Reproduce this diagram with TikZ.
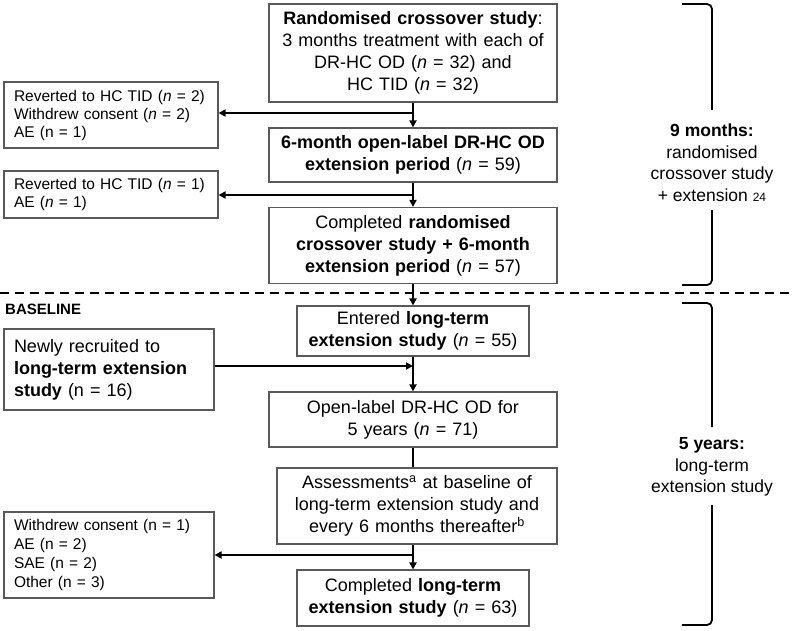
\documentclass[tikz,border=0pt]{standalone}
\usepackage{fontspec}
\setmainfont{Liberation Sans}
\usetikzlibrary{arrows.meta}
\newcommand\MyMain{\fontsize{18}{22}\selectfont}
\newcommand\MySide{\fontsize{15.5}{18}\selectfont}
\newcommand\MySideB{\fontsize{15.5}{18.7}\selectfont}
\newcommand\MyBrace{\fontsize{17.5}{21.5}\selectfont}
\begin{document}
\begin{tikzpicture}[x=1pt,y=-1pt,
  mbox/.style={draw=black!65, line width=1.1pt, align=center, inner xsep=10pt, inner ysep=0pt, font=\MyMain},
  sbox/.style={draw=black!65, line width=1.1pt, align=left, inner xsep=10pt, inner ysep=0pt, font=\MySide},
  arr/.style={line width=1.8pt, -{Triangle[length=7pt,width=7pt]}},
  ln/.style={line width=1.8pt},
  brc/.style={line width=1.8pt, rounded corners=5pt},
  bracetext/.style={align=center, inner sep=0pt, font=\MyBrace}
]
\useasboundingbox (0,0) rectangle (793,631);
\fill[white] (0,0) rectangle (793,631);

% upper part
\node[mbox, text width=268pt, minimum height=98pt] (top) at (413,53)
  {\textbf{Randomised crossover study}:\\3 months treatment with each of\\DR-HC OD (\textit{n} = 32) and\\HC TID (\textit{n} = 32)};
\node[sbox, text width=194pt, minimum height=66pt] (l1) at (111,115)
  {Reverted to HC TID (\textit{n} = 2)\\Withdrew consent (\textit{n} = 2)\\AE (n = 1)};
\node[mbox, text width=268pt, minimum height=54pt] (m6) at (413,155)
  {\textbf{6-month open-label DR-HC OD}\\\textbf{extension period} (\textit{n} = 59)};
\node[sbox, text width=194pt, minimum height=47pt] (l2) at (111,194.5)
  {Reverted to HC TID (\textit{n} = 1)\\AE (\textit{n} = 1)};
\node[mbox, text width=268pt, minimum height=76pt] (c1) at (413,245.5)
  {Completed \textbf{randomised}\\\textbf{crossover study + 6-month}\\\textbf{extension period} (\textit{n} = 57)};

% separator
\draw[line width=1.5pt, dash pattern=on 9pt off 6pt] (0,293) -- (793,293);
\node[anchor=west, inner sep=0pt, font=\bfseries\fontsize{15}{15}\selectfont] (bl) at (5,309) {BASELINE};

% lower part
\node[mbox, text width=212pt, minimum height=50pt] (en) at (413,331)
  {Entered \textbf{long-term}\\\textbf{extension study} (\textit{n} = 55)};
\node[sbox, font=\MyMain, text width=190pt, minimum height=81pt] (nr) at (109,369.5)
  {Newly recruited to\\\textbf{long-term extension}\\\textbf{study} (n = 16)};
\node[mbox, text width=268pt, minimum height=55pt] (ol) at (413,419.5)
  {Open-label DR-HC OD for\\5 years (\textit{n} = 71)};
\node[mbox, text width=260pt, minimum height=76pt] (as) at (417,506)
  {Assessments\textsuperscript{a} at baseline of\\long-term extension study and\\every 6 months thereafter\textsuperscript{b}};
\node[sbox, font=\MySideB, text width=190pt, minimum height=86pt] (l3) at (109,555)
  {Withdrew consent (n = 1)\\AE (n = 2)\\SAE (n = 2)\\Other (n = 3)};
\node[mbox, text width=212pt, minimum height=56pt] (c2) at (413,598)
  {Completed \textbf{long-term}\\\textbf{extension study} (\textit{n} = 63)};

% connectors
\coordinate (b1) at (413,113);
\coordinate (b2) at (413,195);
\coordinate (b3) at (413,366);
\coordinate (b4) at (413,555);
\draw[arr] (top) -- (m6);
\draw[arr] (b1) -- (b1 -| l1.east);
\draw[arr] (m6) -- (c1);
\draw[arr] (b2) -- (b2 -| l2.east);
\draw[arr] (c1) -- (en);
\draw[arr] (en) -- (ol);
\draw[arr] (b3 -| nr.east) -- (b3);
\draw[ln] (ol.south) -- (ol.south |- as.north);
\draw[arr] (as.south -| c2.north) -- (c2.north);
\draw[arr] (b4) -- (b4 -| l3.east);

% braces
\node[bracetext] (t9) at (712,162.5)
  {\textbf{9 months:}\\randomised\\crossover study\\+ extension {\fontsize{12}{12}\selectfont 24}};
\node[bracetext] (t5) at (712,467)
  {\textbf{5 years:}\\long-term\\extension study};
\draw[brc] (712,110) -- (712,4) -- (682,4);
\draw[brc] (712,210) -- (712,285) -- (682,285);
\draw[brc] (712,427) -- (712,303) -- (682,303);
\draw[brc] (712,505) -- (712,625) -- (682,625);
\end{tikzpicture}
\end{document}
